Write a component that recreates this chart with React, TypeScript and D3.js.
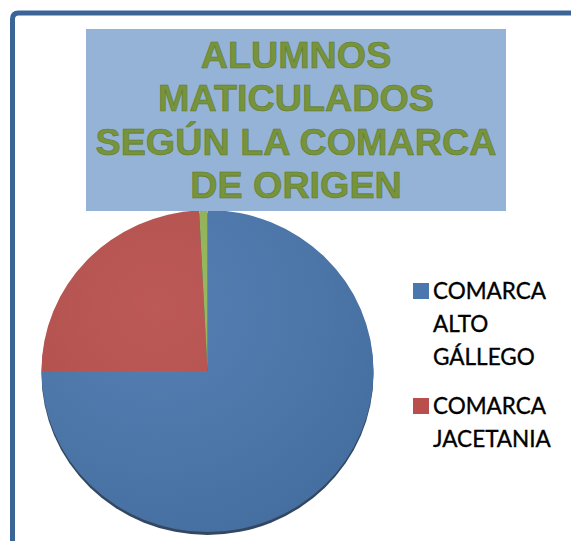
import React from 'react';
import * as d3 from 'd3';

// Datos del gráfico
const categories = ['COMARCA ALTO GÁLLEGO', 'COMARCA JACETANIA', 'OTRAS'];
const values = [93, 30, 1];
const colors = ['#4a77ad', '#b84f4c', '#93b556'];
const titleLines = ['ALUMNOS', 'MATICULADOS', 'SEGÚN LA COMARCA', 'DE ORIGEN'];
const legendItems = [
  { idx: 0, lines: ['COMARCA', 'ALTO', 'GÁLLEGO'] },
  { idx: 1, lines: ['COMARCA', 'JACETANIA'] },
];

const W = 571;
const H = 541;

const App = () => {
  const cx = 207.5;
  const cy = 371;
  const rx = 166;
  const ry = 161;

  const pie = d3.pie<number>().sort(null).value((d) => d);
  const arcs = pie(values);
  const arc = d3.arc<d3.PieArcDatum<number>>().innerRadius(0).outerRadius(rx);

  // title box
  const box = { x: 86, y: 29, w: 420, h: 182 };
  const titleY = d3.scalePoint<number>().domain(d3.range(titleLines.length)).range([68, 198]);

  // legend layout
  const lineH = 33;
  let yCursor = 299;
  const legendRows = legendItems.map((item) => {
    const row = { ...item, y: yCursor };
    yCursor += item.lines.length * lineH + 16;
    return row;
  });

  return (
    <svg
      width={W}
      height={H}
      style={{ position: 'absolute', left: 0, top: 0, background: '#fff' }}
    >
      <defs>
        <radialGradient id="shade" cx="35%" cy="30%" r="80%">
          <stop offset="0%" stopColor="#fff" stopOpacity={0.06} />
          <stop offset="100%" stopColor="#000" stopOpacity={0.08} />
        </radialGradient>
      </defs>

      {/* chart area border */}
      <path
        d={`M12.5,${H} L12.5,19 Q12.5,13 18.5,13 L${W},13`}
        fill="none"
        stroke="#3c6597"
        strokeWidth={5}
      />

      {/* pie */}
      <g transform={`translate(${cx},${cy}) scale(1,${ry / rx})`}>
        <circle cx={0} cy={3} r={rx} fill="#1e3350" opacity={0.9} />
        {arcs.map((a, i) => (
          <path key={categories[i]} d={arc(a) || ''} fill={colors[i]} />
        ))}
        <circle cx={0} cy={0} r={rx} fill="url(#shade)" />
      </g>

      {/* title */}
      <rect x={box.x} y={box.y} width={box.w} height={box.h} fill="#95b3d7" />
      <g transform={`translate(${box.x + box.w / 2},0) scale(1.02,1)`}>
        {titleLines.map((t, i) => (
          <text
            key={t}
            x={0}
            y={titleY(i)}
            textAnchor="middle"
            fontFamily="'Liberation Sans', Arial, sans-serif"
            fontWeight="bold"
            fontSize={37}
            fill="#77933c"
            stroke="#5e7a2a"
            strokeWidth={0.6}
          >
            {t}
          </text>
        ))}
      </g>

      {/* legend */}
      {legendRows.map((row) => (
        <g key={row.idx}>
          <rect x={413} y={row.y - 16} width={16} height={16} fill={colors[row.idx]} />
          {row.lines.map((l, j) => (
            <text
              key={j}
              x={433}
              y={row.y + j * lineH}
              fontFamily="Lato, 'Open Sans', sans-serif"
              fontSize={22.5}
              fill="#000"
              stroke="#000"
              strokeWidth={0.35}
            >
              {l}
            </text>
          ))}
        </g>
      ))}
    </svg>
  );
};

export default App;
